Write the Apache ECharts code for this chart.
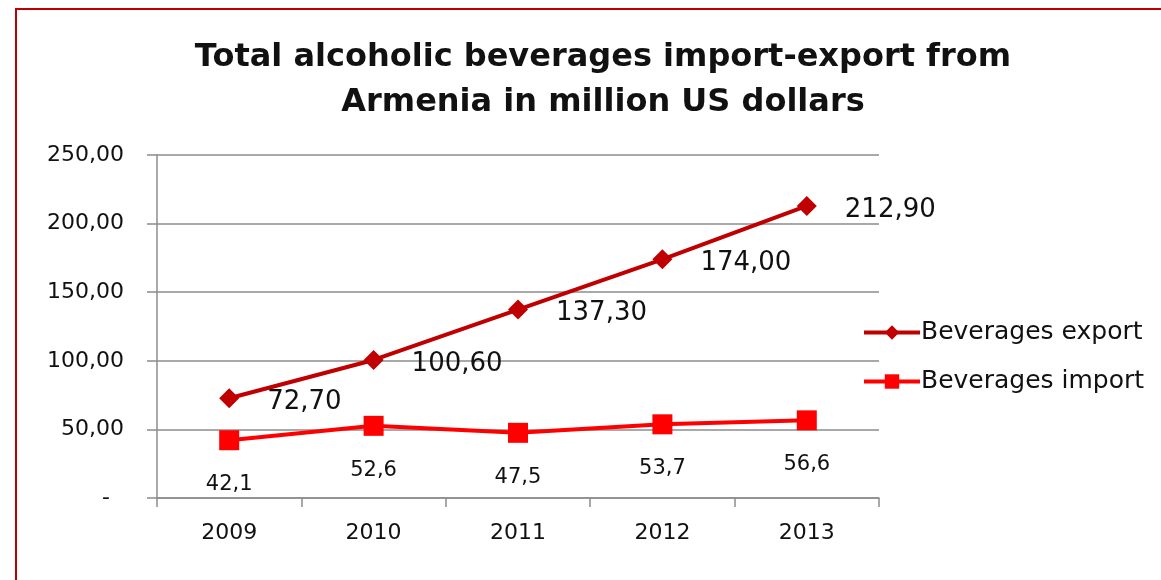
<!DOCTYPE html>
<html>
<head>
<meta charset="utf-8">
<script src="https://cdn.jsdelivr.net/npm/echarts@6/dist/echarts.min.js"></script>
<style>
  html, body { margin: 0; padding: 0; background: #fff; }
  #chart { width: 1161px; height: 580px; }
</style>
</head>
<body>
<div id="chart"></div>
<script>
// Years on the category axis
const years = ['2009', '2010', '2011', '2012', '2013'];
// Million US dollars
const exportValues = [72.7, 100.6, 137.3, 174.0, 212.9];
const importValues = [42.1, 52.6, 47.5, 53.7, 56.6];

const FONT = '"DejaVu Sans", Verdana, sans-serif';
const comma = (v, d) => v.toFixed(d).replace('.', ',');

const chart = echarts.init(document.getElementById('chart'));
chart.setOption({
  animation: false,
  backgroundColor: '#ffffff',
  title: {
    text: 'Total alcoholic beverages import-export from\nArmenia in million US dollars',
    left: 598,
    textAlign: 'center',
    top: 30,
    textStyle: {
      fontFamily: FONT,
      fontWeight: 'bold',
      fontSize: 32,
      lineHeight: 45,
      color: '#111'
    }
  },
  graphic: [{
    type: 'rect',
    shape: { x: 16, y: 9, width: 1200, height: 620 },
    style: { fill: 'none', stroke: '#C00000', lineWidth: 2 },
    silent: true
  }],
  legend: {
    orient: 'vertical',
    left: 857,
    top: 315,
    itemGap: 24,
    itemWidth: 56,
    itemHeight: 18,
    textStyle: { fontFamily: FONT, fontSize: 25, color: '#111', padding: [0, 0, 0, -4] },
    data: [
      { name: 'Beverages export', lineStyle: { width: 4 } },
      { name: 'Beverages import', lineStyle: { width: 4 } }
    ]
  },
  grid: { left: 157, right: 282, top: 155, bottom: 82 },
  xAxis: {
    type: 'category',
    data: years,
    boundaryGap: true,
    axisLine: { lineStyle: { color: '#8c8c8c', width: 1.5 } },
    axisTick: { show: true, length: 9, interval: 0, lineStyle: { color: '#8c8c8c', width: 1.5 } },
    axisLabel: { fontFamily: FONT, fontSize: 22, color: '#111', margin: 24 }
  },
  yAxis: {
    type: 'value',
    min: 0,
    max: 250,
    interval: 50,
    axisLine: { show: true, lineStyle: { color: '#8c8c8c', width: 1.5 } },
    axisTick: { show: true, length: 10, lineStyle: { color: '#8c8c8c', width: 1.5 } },
    splitLine: { lineStyle: { color: '#8c8c8c', width: 1.5 } },
    axisLabel: {
      fontFamily: FONT, fontSize: 22, color: '#111', margin: 33,
      // accounting-style zero: a dash padded in from the right
      formatter: v => v === 0 ? '-  ' : comma(v, 2)
    }
  },
  series: [
    {
      name: 'Beverages export',
      type: 'line',
      data: exportValues,
      color: '#C00000',
      symbol: 'diamond',
      symbolSize: 20,
      lineStyle: { width: 4, color: '#C00000' },
      itemStyle: { color: '#C00000' },
      label: {
        show: true,
        position: 'right',
        distance: 28,
        offset: [0, 4],
        fontFamily: FONT,
        fontSize: 26,
        color: '#111',
        formatter: p => comma(p.value, 2)
      },
      z: 3
    },
    {
      name: 'Beverages import',
      type: 'line',
      data: importValues,
      color: '#FF0000',
      symbol: 'rect',
      symbolSize: 20,
      lineStyle: { width: 4, color: '#FF0000' },
      itemStyle: { color: '#FF0000' },
      label: {
        show: true,
        position: 'bottom',
        distance: 24,
        fontFamily: FONT,
        fontSize: 21,
        color: '#111',
        formatter: p => comma(p.value, 1)
      },
      z: 2
    }
  ]
});
</script>
</body>
</html>
